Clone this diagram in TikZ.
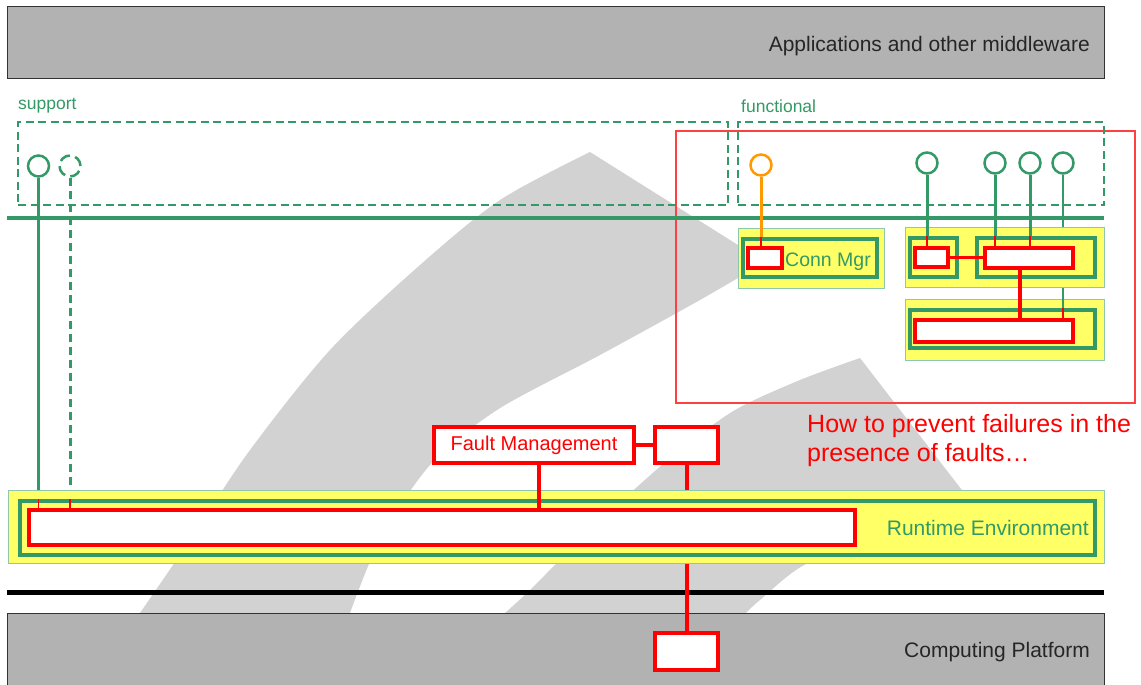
\documentclass[tikz,border=0pt]{standalone}
\usepackage{fontspec}
\setmainfont{Liberation Sans}
\definecolor{grn}{HTML}{339966}
\definecolor{yel}{HTML}{FFFF66}
\definecolor{org}{HTML}{FF9900}
\definecolor{barg}{HTML}{B2B2B2}
\definecolor{wmg}{HTML}{D2D2D2}

\begin{document}
\begin{tikzpicture}[x=1pt,y=-1pt,
  bar/.style={draw=black!80,fill=barg,line width=1,inner sep=0},
  layer/.style={draw=grn!55,fill=yel,line width=1,inner sep=0},
  comp/.style={draw=grn,line width=4.5,inner sep=0},
  impl/.style={draw=red,fill=white,line width=4,inner sep=0},
  port/.style={circle,draw=grn,fill=white,line width=2.5,minimum size=21,inner sep=0},
  area/.style={draw=grn,dash pattern=on 8pt off 4.5pt,line width=2.2,inner sep=0},
  gline/.style={draw=grn,line width=3},
  rline/.style={draw=red,line width=4},
  tick/.style={draw=red,line width=1.2},
  lbl/.style={inner sep=0,font=\fontsize{21}{25}\selectfont}]
  \useasboundingbox (0,0) rectangle (1141,685);
  % watermark
  \fill[wmg] plot[smooth] coordinates {(140,613) (190,540) (250,450) (330,350) (420,265) (500,200) (590,152)}
    -- plot[smooth] coordinates {(765,262) (700,300) (600,355) (497,410) (430,465) (380,540) (350,613)} -- cycle;
  \fill[wmg] plot[smooth] coordinates {(505,613) (530,590) (580,540) (637,487) (680,450) (735,410) (800,380) (860,358)}
    -- plot[smooth] coordinates {(985,520) (890,540) (808,563) (760,600) (746,613)} -- cycle;
  \node[draw=red!75,line width=1.5,minimum width=459,minimum height=272,inner sep=0] (focus) at (905.5,267) {};
  \node[area,minimum width=710,minimum height=83] (sup) at (373,163.5) {};
  \node[area,minimum width=366,minimum height=83] (fun) at (921,163.5) {};
  \node[anchor=base west,text=grn,font=\fontsize{17.5}{21}\selectfont,inner sep=0] (supl) at (18,110) {support};
  \node[anchor=base west,text=grn,font=\fontsize{17.5}{21}\selectfont,inner sep=0] (funl) at (741,113) {functional};
  \node[bar,minimum width=1097,minimum height=72] (apps) at (555.5,43) {};
  \node[lbl,anchor=base east,text=black!85] (appsl) at (1090,52) {Applications and other middleware};
  \node[bar,minimum width=1097,minimum height=80] (plat) at (555.5,653) {};
  \node[lbl,anchor=base east,text=black!85] (platl) at (1090,657) {Computing Platform};
  \coordinate (busw) at (7,218);
  \coordinate (buse) at (1104,218);
  \draw[grn,line width=4.5] (busw) -- (buse);
  \coordinate (basew) at (7,592.5);
  \coordinate (basee) at (1104,592.5);
  \draw[black,line width=5] (basew) -- (basee);
  % runtime
  \node[layer,minimum width=1096,minimum height=73] (rte) at (556,526.5) {};
  \node[comp,minimum width=1075,minimum height=54] (rteg) at (557.5,528) {};
  \node[impl,minimum width=826,minimum height=35] (rter) at (442,527.5) {};
  \node[lbl,anchor=base east,text=grn] (rtel) at (1089,535) {Runtime Environment};
  \node[impl,minimum width=200,minimum height=36,text=red,font=\fontsize{20}{24}\selectfont] (fm) at (534,445) {Fault Management};
  \node[impl,minimum width=63,minimum height=36] (fmx) at (686.5,445) {};
  \node[impl,minimum width=63,minimum height=37] (cpx) at (686.5,651.5) {};
  % functional
  \node[layer,minimum width=146,minimum height=60] (cm) at (811,258) {};
  \node[comp,minimum width=134,minimum height=38] (cmg) at (810,258) {};
  \node[impl,line width=3.5,minimum width=34,minimum height=20] (cmr) at (765,258) {};
  \node[lbl,anchor=base west,text=grn,font=\fontsize{19.5}{23}\selectfont] (cml) at (785,266) {Conn Mgr};
  \node[layer,minimum width=199,minimum height=60] (fu) at (1004.5,257) {};
  \node[comp,minimum width=47,minimum height=39] (fug1) at (933.5,257.5) {};
  \node[impl,line width=3.5,minimum width=33,minimum height=19] (fur1) at (931.5,257.5) {};
  \node[comp,minimum width=118,minimum height=39] (fug2) at (1036,257.5) {};
  \node[impl,line width=3.5,minimum width=88,minimum height=20] (fur2) at (1029,258) {};
  \node[layer,minimum width=199,minimum height=61] (fl) at (1004.5,329.5) {};
  \node[comp,minimum width=185,minimum height=38] (flg) at (1002.5,329) {};
  \node[impl,line width=3.5,minimum width=158,minimum height=22] (flr) at (994,331) {};
  \node[anchor=north west,align=left,text=red,font=\fontsize{25}{29}\selectfont,inner sep=0] (howto) at (807,414) {How to prevent failures in the\\presence of faults…};
  % ports
  \node[port] (sp1) at (38.5,166) {};
  \node[port,dash pattern=on 11pt off 5.5pt] (sp2) at (70,166) {};
  \node[port,draw=org] (op) at (761,165) {};
  \node[port] (fp1) at (927,163) {};
  \node[port] (fp2) at (995,163) {};
  \node[port] (fp3) at (1030,163) {};
  \node[port] (fp4) at (1063,163) {};
  \draw[gline] (sp1.south) -- (sp1.south |- rte.north);
  \draw[tick] (sp1.south |- rteg.north) -- (sp1.south |- rter.north);
  \draw[gline,dash pattern=on 8pt off 5pt] (sp2.south) -- (sp2.south |- rte.north);
  \draw[tick] (sp2.south |- rteg.north) -- (sp2.south |- rter.north);
  \draw[gline,draw=org] (op.south) -- (op.south |- cmg.north);
  \draw[tick] (op.south |- cmg.north) -- (op.south |- cmr.north);
  \foreach \p/\g/\r in {fp1/fug1/fur1,fp2/fug2/fur2,fp3/fug2/fur2} {
    \draw[gline] (\p.south) -- (\p.south |- \g.north);
    \draw[tick] (\p.south |- \g.north) -- (\p.south |- \r.north);
  }
  \draw[gline,line width=2] (fp4.south) -- (fp4.south |- fu.north);
  \draw[gline,line width=2] (fp4.south |- fu.south) -- (fp4.south |- flg.north);
  \draw[tick] (fp4.south |- flg.north) -- (fp4.south |- flr.north);
  % red links
  \draw[rline,line width=3.5] (fur1.east) -- (fur1.east -| fur2.west);
  \draw[rline] ([xshift=-9pt]fur2.south) -- ([xshift=-9pt]fur2.south |- flr.north);
  \draw[rline] (fm.east) -- (fmx.west);
  \draw[rline] ([xshift=5pt]fm.south) -- ([xshift=5pt]fm.south |- rter.north);
  \draw[rline] (fmx.south) -- (fmx.south |- rte.north);
  \draw[rline] (fmx.south |- rte.south) -- (cpx.north);
\end{tikzpicture}
\end{document}
